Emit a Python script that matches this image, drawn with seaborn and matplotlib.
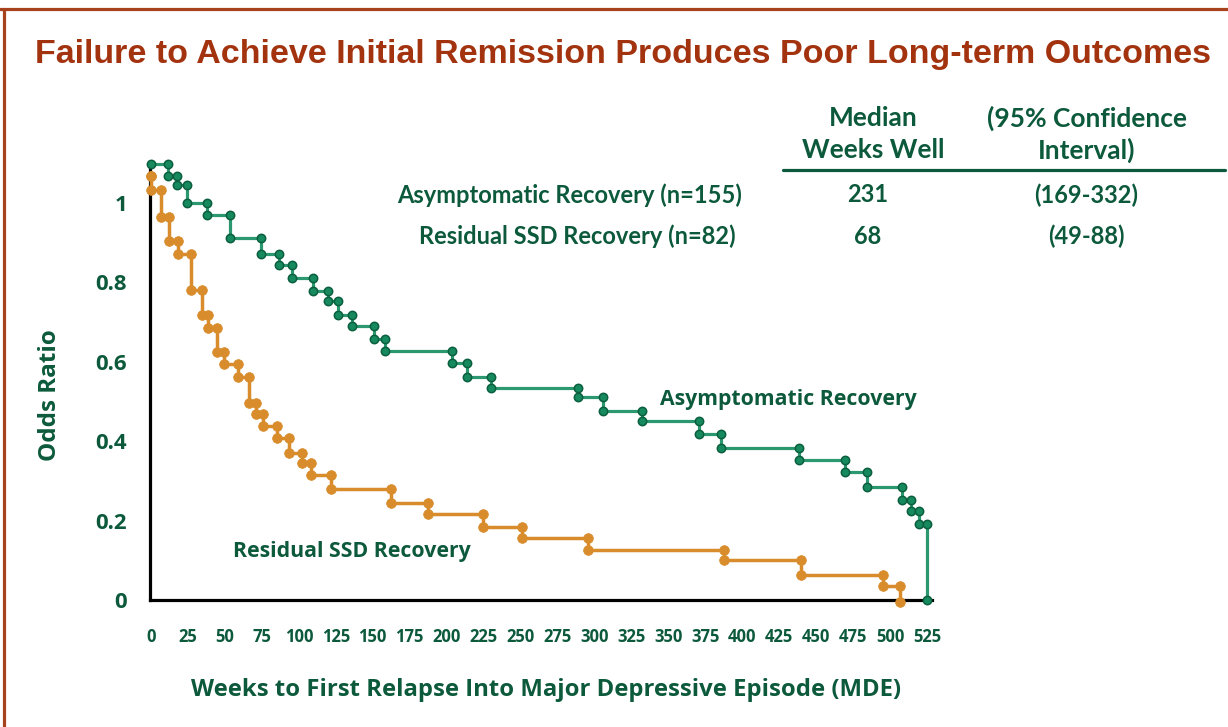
import matplotlib
matplotlib.use('Agg')
import pandas as pd
import matplotlib.pyplot as plt
import seaborn as sns

# Step values (weeks, odds ratio after each drop)
asym_weeks = [0, 11.7, 17.4, 24.2, 37.7, 53.5, 74.1, 86.4, 95.2, 109.4, 119.8, 126.3, 135.8, 151.2, 158.3,
              203.9, 214.0, 229.8, 288.7, 305.6, 332.0, 371.0, 385.5, 438.6, 469.2, 484.4, 508.3, 514.2,
              519.3, 524.8]
asym_odds = [1.098, 1.068, 1.044, 1.001, 0.970, 0.911, 0.871, 0.843, 0.810, 0.779, 0.753, 0.718, 0.690, 0.657,
             0.628, 0.596, 0.562, 0.535, 0.512, 0.477, 0.452, 0.417, 0.383, 0.353, 0.322, 0.285, 0.252, 0.225,
             0.191, 0.0]

ssd_weeks = [0, 0, 6.8, 12.4, 18.5, 26.9, 34.3, 38.8, 44.4, 49.6, 59.1, 66.1, 71.0, 75.8, 85.0, 93.4, 102.0,
             108.1, 121.8, 162.4, 187.6, 224.8, 250.8, 295.9, 388.0, 439.6, 495.1, 506.5]
ssd_odds = [1.068, 1.033, 0.965, 0.903, 0.872, 0.781, 0.718, 0.684, 0.624, 0.594, 0.562, 0.497, 0.469, 0.438,
            0.407, 0.371, 0.344, 0.315, 0.279, 0.245, 0.217, 0.185, 0.155, 0.126, 0.101, 0.063, 0.034, -0.004]

x_ticks = [0, 25, 50, 75, 100, 125, 150, 175, 200, 225, 250, 275, 300, 325, 350, 375, 400, 425, 450, 475,
           500, 525]
y_ticks = [0, 0.2, 0.4, 0.6, 0.8, 1.0]
y_tick_labels = ['0', '0.2', '0.4', '0.6', '0.8', '1']

table_header = ['Median\nWeeks Well', '(95% Confidence\nInterval)']
table_rows = ['Asymptomatic Recovery (n=155)', 'Residual SSD Recovery (n=82)']
table_median = ['231', '68']
table_ci = ['(169-332)', '(49-88)']

title = 'Failure to Achieve Initial Remission Produces Poor Long-term Outcomes'

GREEN_TXT = '#0c5a3b'
RED = '#a3330f'
W, H = 1228, 727


def step_path(weeks, odds):
    xs, ys = [weeks[0]], [odds[0]]
    for w, o in zip(weeks[1:], odds[1:]):
        xs += [w, w]
        ys += [ys[-1], o]
    return pd.DataFrame({'week': xs, 'odds': ys})


def px(x, y):
    return x / W, 1 - y / H


sns.set_theme(style="white")
plt.rcParams['font.family'] = ['Open Sans', 'DejaVu Sans']
table_font = ['Lato', 'DejaVu Sans']
title_font = ['Liberation Sans', 'DejaVu Sans']

fig = plt.figure(figsize=(W / 100, H / 100), dpi=100)
ax = fig.add_axes([150 / W, 1 - 600 / H, (932 - 150) / W, (600 - 162) / H])

asym = step_path(asym_weeks, asym_odds)
ssd = step_path(ssd_weeks, ssd_odds)

sns.lineplot(data=asym, x='week', y='odds', sort=False, estimator=None, ax=ax,
             color='#2b9870', linewidth=2.3, marker='o', markersize=6,
             markerfacecolor='#168a5e', markeredgecolor='#0b5f3e', markeredgewidth=1.1,
             clip_on=False, zorder=3)
sns.lineplot(data=ssd, x='week', y='odds', sort=False, estimator=None, ax=ax,
             color='#d98c2b', linewidth=2.5, marker='o', markersize=7,
             markerfacecolor='#d98c2b', markeredgecolor='#d98c2b', markeredgewidth=0.5,
             clip_on=False, zorder=4)

ax.set_xlim(-0.68, 528.4)
ax.set_ylim(0, 1.103)
ax.set_xticks(x_ticks)
ax.set_xticklabels([str(t) for t in x_ticks], fontsize=12, fontweight='bold', color=GREEN_TXT)
ax.set_yticks(y_ticks)
ax.set_yticklabels(y_tick_labels, fontsize=16, fontweight='bold', color=GREEN_TXT)
ax.set_xlabel('')
ax.set_ylabel('')
ax.tick_params(axis='x', direction='out', length=6.5, width=2.2, color='black', pad=14)
ax.tick_params(axis='y', direction='out', length=6.5, width=2.2, color='black', pad=10)
for side in ['top', 'right']:
    ax.spines[side].set_visible(False)
for side in ['left', 'bottom']:
    ax.spines[side].set_linewidth(2.3)
    ax.spines[side].set_color('black')
ax.patch.set_alpha(0)

# curve labels
fig.text(*px(788, 400), 'Asymptomatic Recovery', ha='center', va='center',
         fontsize=15.3, fontweight='bold', color=GREEN_TXT)
fig.text(*px(352, 552), 'Residual SSD Recovery', ha='center', va='center',
         fontsize=15.3, fontweight='bold', color=GREEN_TXT)

# axis labels
fig.text(*px(50, 395), 'Odds Ratio', rotation=90, ha='center', va='center',
         fontsize=17.5, fontweight='bold', color=GREEN_TXT)
fig.text(*px(546, 690), 'Weeks to First Relapse Into Major Depressive Episode (MDE)', ha='center',
         va='center', fontsize=17.2, fontweight='bold', color=GREEN_TXT)

# title
fig.text(*px(623, 54), title, ha='center', va='center', fontsize=24.5, fontweight='bold',
         color=RED, family=title_font)

# table
for hx, head in zip([873, 1087], table_header):
    for hy, line in zip([118, 150], head.split('\n')):
        fig.text(*px(hx, hy), line, ha='center', va='center', fontsize=19,
                 fontweight='bold', color=GREEN_TXT, family=table_font)
fig.add_artist(plt.Line2D([783 / W, 1225 / W], [1 - 170 / H, 1 - 170 / H], color=GREEN_TXT, lw=2.3))
row_y = [195, 236]
row_right = [742, 736]
for i in range(2):
    fig.text(*px(row_right[i], row_y[i]), table_rows[i], ha='right', va='center', fontsize=17,
             fontweight='bold', color=GREEN_TXT, family=table_font)
    fig.text(*px(868, row_y[i]), table_median[i], ha='center', va='center', fontsize=17,
             fontweight='bold', color=GREEN_TXT, family=table_font)
    fig.text(*px(1086, row_y[i]), table_ci[i], ha='center', va='center', fontsize=17,
             fontweight='bold', color=GREEN_TXT, family=table_font)

# frame lines
fig.add_artist(plt.Line2D([0, 1], [1 - 9 / H, 1 - 9 / H], color='#a8421e', lw=2.3))
fig.add_artist(plt.Line2D([4 / W, 4 / W], [0, 1 - 9 / H], color='#a8421e', lw=2.3))

fig.savefig('out.png', dpi=100)
